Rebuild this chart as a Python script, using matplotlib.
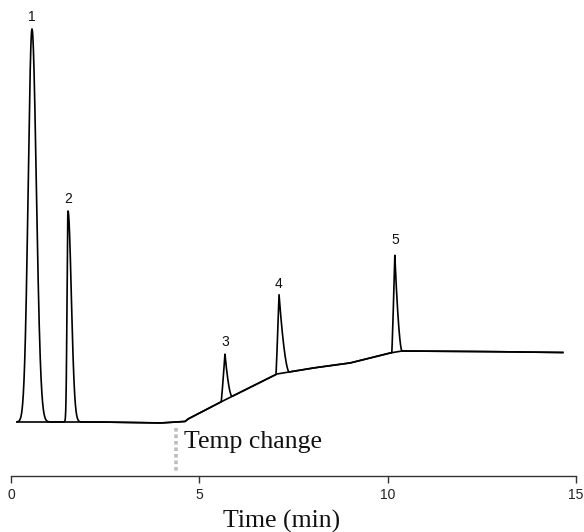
import numpy as np
import matplotlib
matplotlib.use("Agg")
import matplotlib.pyplot as plt

# ---- data (time in min, signal in arbitrary units; 0 = initial baseline) ----
baseline_t = [0.16, 2.36, 3.96, 4.62, 4.70, 5.57, 7.06, 8.02, 9.00, 10.06, 10.38, 12.45, 14.65]
baseline_y = [0.0, 0.0, -1.0, 0.5, 3.0, 20.0, 48.0, 54.0, 59.0, 69.0, 71.0, 70.5, 69.5]

peak_labels = ["1", "2", "3", "4", "5"]
peak_times = [0.557, 1.513, 5.68, 7.115, 10.19]
peak_heights = [393.0, 211.0, 46.0, 79.5, 97.0]        # above local baseline
peak_left_width = [0.100, 0.025, 0.10, 0.08, 0.08]     # left sigma / base half-width (min)
peak_right_width = [0.115, 0.088, 0.19, 0.27, 0.19]    # right sigma / base half-width (min)
peak_tailing = [False, False, True, True, True]

temp_change_time = 4.38
xticks = [0, 5, 10, 15]

# ---- build trace ----
t = np.linspace(baseline_t[0], baseline_t[-1], 8000)
base = np.interp(t, baseline_t, baseline_y)
signal = base.copy()
for t0, h, wl, wr, tail in zip(peak_times, peak_heights, peak_left_width,
                               peak_right_width, peak_tailing):
    dt = t - t0
    if tail:
        left = h * np.clip(1 + dt / wl, 0, None) ** 1.15
        right = h * np.clip(1 - dt / wr, 0, None) ** 1.7
    else:
        left = h * np.exp(-0.5 * (dt / wl) ** 2)
        right = h * np.exp(-0.5 * (dt / wr) ** 2)
    signal += np.where(dt < 0, left, right)

W, H = 584, 532
fig = plt.figure(figsize=(W / 100, H / 100), dpi=100)
ax = fig.add_axes([11 / W, (H - 476) / H, 565 / W, (476 - 5) / H])
ax.set_xlim(0, 15)
ax.set_ylim(-54, 417)

ax.plot(baseline_t, baseline_y, color="black", lw=1.2, solid_joinstyle="round")
ax.plot(t, signal, color="black", lw=1.2, solid_joinstyle="round")

label_offsets = [5, 5, 5, 3, 8]
for lab, t0, h, off in zip(peak_labels, peak_times, peak_heights, label_offsets):
    yb = np.interp(t0, baseline_t, baseline_y)
    ax.text(t0, yb + h + off, lab, ha="center", va="bottom",
            fontsize=10, family="Liberation Sans", color="#111111")

# temp change marker
ax.plot([temp_change_time, temp_change_time], [-6, -49], color="#bdbdbd",
        lw=2.6, linestyle=(0, (1.0, 0.8)), solid_capstyle="butt")
ax.text(temp_change_time + 0.2, -26, "Temp change", family="Liberation Serif",
        fontsize=18.5, ha="left", va="baseline", color="#111111")

for s in ["top", "left", "right"]:
    ax.spines[s].set_visible(False)
ax.spines["bottom"].set_color("#333333")
ax.spines["bottom"].set_linewidth(1.0)
ax.set_yticks([])
ax.set_xticks(xticks)
ax.set_xticklabels([str(v) for v in xticks], family="Liberation Sans", fontsize=10)
ax.tick_params(axis="x", direction="out", length=5, width=1, color="#333333",
               pad=3.5, labelcolor="#222222")

fig.text(282 / W, (H - 528) / H, "Time (min)", family="Liberation Serif",
         fontsize=18.5, ha="center", va="baseline", color="#111111")

fig.savefig("out.png", dpi=100)
